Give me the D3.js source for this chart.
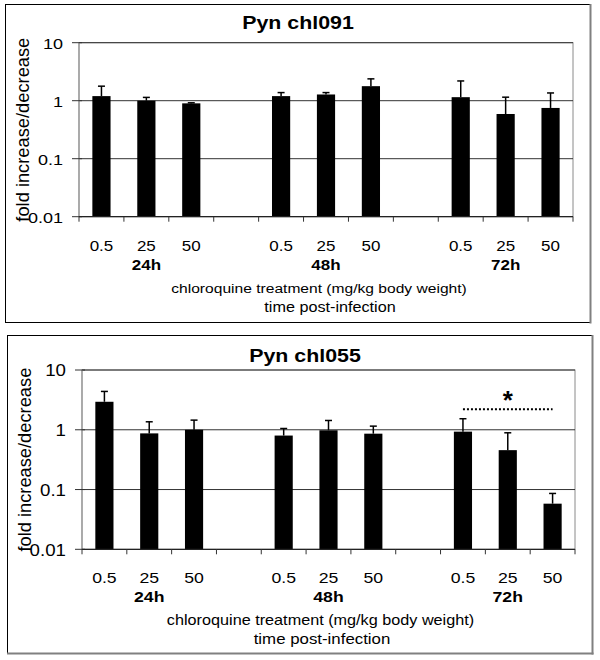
<!DOCTYPE html>
<html>
<head>
<meta charset="utf-8">
<script src="https://cdn.jsdelivr.net/npm/d3@7"></script>
<style>
  html, body { margin: 0; padding: 0; background: #fff; }
  svg { display: block; }
  text { font-family: "Liberation Sans", Arial, sans-serif; fill: #000; }
</style>
</head>
<body>
<svg id="chart" width="600" height="660"></svg>
<script>
// ---- data ----
const doses = ["0.5", "25", "50"];
const times = ["24h", "48h", "72h"];
const yTicks = [0.01, 0.1, 1, 10];
const yTickLabels = ["0.01", "0.1", "1", "10"];

const titles = ["Pyn chl091", "Pyn chl055"];
// bar values (fold change), order: 24h(0.5,25,50), 48h(...), 72h(...)
const chl091Values = [1.2, 1.0, 0.9, 1.2, 1.28, 1.78, 1.15, 0.59, 0.75];
const chl091ErrTop = [1.78, 1.14, 0.92, 1.38, 1.38, 2.38, 2.19, 1.15, 1.36];
const chl055Values = [2.94, 0.87, 1.0, 0.80, 0.98, 0.86, 0.93, 0.456, 0.058];
const chl055ErrTop = [4.38, 1.36, 1.45, 1.05, 1.43, 1.15, 1.53, 0.89, 0.086];

// significance bracket in the second panel (72h 0.5 vs 72h 50)
const sigFrom = ["72h", "0.5"];
const sigTo = ["72h", "50"];
const sigLevel = 2.2;
const sigLabel = "*";

const xTitle = "chloroquine treatment (mg/kg body weight)";
const xTitle2 = "time post-infection";
const yTitle = "fold increase/decrease";

// ---- layout ----
const svg = d3.select("#chart");
const panels = [
  { title: titles[0], values: chl091Values, err: chl091ErrTop,
    frame: [5, 4, 590, 322], bottomGray: false,
    plot: { l: 79, r: 573, t: 42.7, b: 216.7 },
    titleX: 298, titleY: 29, ylabX: 29, fs: 1.0,
    xt1X: 319, xt2X: 330, sig: false },
  { title: titles[1], values: chl055Values, err: chl055ErrTop,
    frame: [7, 335, 592, 653], bottomGray: true,
    plot: { l: 82, r: 575, t: 370, b: 549.3 },
    titleX: 305, titleY: 362, ylabX: 31, fs: 1.04,
    xt1X: 320.5, xt2X: 322, sig: true }
];

// slots: three groups of three doses separated by empty slots
const slots = [];
times.forEach((t, gi) => {
  doses.forEach(d => slots.push(t + "|" + d));
  if (gi < times.length - 1) slots.push("gap" + gi);
});

const SQ = 0.85; // vertical squish of horizontal text

function hText(g, x, y, str, size, opts = {}) {
  const t = g.append("g").attr("transform", `translate(${x},${y}) scale(1,${SQ})`)
    .append("text")
    .attr("text-anchor", opts.anchor || "middle")
    .style("font-size", size + "px")
    .text(str);
  if (opts.bold) t.style("font-weight", "bold");
  return t;
}

panels.forEach(p => {
  const g = svg.append("g");
  const [fx0, fy0, fx1, fy1] = p.frame;

  // frame
  g.append("rect").attr("x", fx0 + 0.5).attr("y", fy0 + 0.5)
    .attr("width", fx1 - fx0).attr("height", fy1 - fy0)
    .attr("fill", "#fff").attr("stroke", "#000").attr("stroke-width", 1);
  g.append("line").attr("x1", fx1 + 0.5).attr("x2", fx1 + 0.5)
    .attr("y1", fy0).attr("y2", fy1 + 1.5)
    .attr("stroke", "#808080").attr("stroke-width", 2);
  if (p.bottomGray) {
    g.append("line").attr("x1", fx0).attr("x2", fx1 + 1.5)
      .attr("y1", fy1 + 0.5).attr("y2", fy1 + 0.5)
      .attr("stroke", "#808080").attr("stroke-width", 2);
  }

  const x = d3.scaleBand().domain(slots).range([p.plot.l, p.plot.r]).padding(0);
  const y = d3.scaleLog().domain([0.01, 10]).range([p.plot.b, p.plot.t]);
  const step = x.step();
  const bw = step * 0.405;

  // plot border (gray)
  g.append("rect").attr("x", p.plot.l).attr("y", p.plot.t)
    .attr("width", p.plot.r - p.plot.l).attr("height", p.plot.b - p.plot.t)
    .attr("fill", "none").attr("stroke", "#8a8a8a").attr("stroke-width", 1);

  // gridlines
  g.selectAll(".grid").data(yTicks.filter(v => v > 0.01)).enter().append("line")
    .attr("x1", p.plot.l).attr("x2", p.plot.r)
    .attr("y1", d => y(d)).attr("y2", d => y(d))
    .attr("stroke", "#333").attr("stroke-width", 1);

  // y axis line (gray)
  g.append("line").attr("x1", p.plot.l).attr("x2", p.plot.l)
    .attr("y1", p.plot.t).attr("y2", p.plot.b)
    .attr("stroke", "#9a9a9a").attr("stroke-width", 1.2);

  // y ticks
  g.selectAll(".ytick").data(yTicks).enter().append("line")
    .attr("x1", p.plot.l - 7).attr("x2", p.plot.l + 3)
    .attr("y1", d => y(d)).attr("y2", d => y(d))
    .attr("stroke", "#333").attr("stroke-width", 1);
  yTicks.forEach((v, i) => {
    hText(g, p.plot.l - 16, y(v) + 6.3, yTickLabels[i], 18 * p.fs, { anchor: "end" });
  });

  // bars
  const idx = slots.filter(s => !s.startsWith("gap"));
  g.selectAll(".bar").data(idx).enter().append("rect")
    .attr("x", (d) => x(d) + (step - bw) / 2)
    .attr("width", bw)
    .attr("y", (d, i) => y(p.values[i]))
    .attr("height", (d, i) => p.plot.b - y(p.values[i]))
    .attr("fill", "#000");

  // error bars
  idx.forEach((s, i) => {
    const cx = x(s) + step / 2;
    g.append("line").attr("x1", cx).attr("x2", cx)
      .attr("y1", y(p.values[i])).attr("y2", y(p.err[i]))
      .attr("stroke", "#000").attr("stroke-width", 1.5);
    g.append("line").attr("x1", cx - 3.5).attr("x2", cx + 3.5)
      .attr("y1", y(p.err[i])).attr("y2", y(p.err[i]))
      .attr("stroke", "#000").attr("stroke-width", 1.5);
  });

  // x axis
  g.append("line").attr("x1", p.plot.l).attr("x2", p.plot.r)
    .attr("y1", p.plot.b).attr("y2", p.plot.b)
    .attr("stroke", "#222").attr("stroke-width", 1.2);
  const bounds = slots.map(s => x(s)).concat([p.plot.r]);
  g.selectAll(".xtick").data(bounds).enter().append("line")
    .attr("x1", d => d).attr("x2", d => d)
    .attr("y1", p.plot.b).attr("y2", p.plot.b + 5)
    .attr("stroke", "#333").attr("stroke-width", 1);

  // x tick labels
  idx.forEach(s => {
    const [t, d] = s.split("|");
    hText(g, x(s) + step / 2, p.plot.b + 34, d, 17 * p.fs);
  });
  times.forEach(t => {
    const s = t + "|" + doses[1];
    hText(g, x(s) + step / 2, p.plot.b + 53, t, 17 * p.fs, { bold: true });
  });
  hText(g, p.xt1X, p.plot.b + 76, xTitle, 15.6 * p.fs);
  hText(g, p.xt2X, p.plot.b + 95, xTitle2, 16.2 * p.fs);

  // title
  hText(g, p.titleX, p.titleY, p.title, 21.4, { bold: true });

  // y title
  g.append("text")
    .attr("transform", `translate(${p.ylabX},${(p.plot.t + p.plot.b) / 2}) rotate(-90)`)
    .attr("text-anchor", "middle")
    .style("font-size", "18.3px")
    .text(yTitle);

  // significance
  if (p.sig) {
    const xa = x(sigFrom.join("|")) + step / 2;
    const xb = x(sigTo.join("|")) + step / 2;
    g.append("line").attr("x1", xa).attr("x2", xb)
      .attr("y1", y(sigLevel)).attr("y2", y(sigLevel))
      .attr("stroke", "#000").attr("stroke-width", 2)
      .attr("stroke-dasharray", "2,2");
    g.append("text").attr("x", (xa + xb) / 2).attr("y", y(sigLevel))
      .attr("text-anchor", "middle")
      .style("font-size", "26px").style("font-weight", "bold")
      .text(sigLabel);
  }
});
</script>
</body>
</html>
